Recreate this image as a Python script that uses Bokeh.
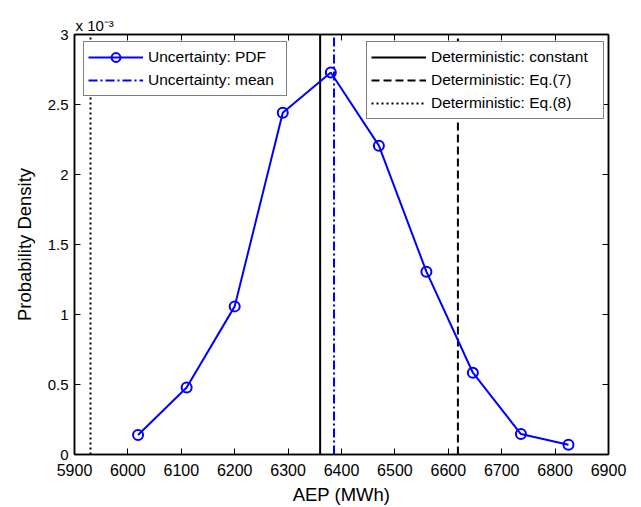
from bokeh.plotting import figure
from bokeh.models import Legend, LegendItem, LinearAxis, FixedTicker, Range1d
from bokeh.embed import file_html
from bokeh.resources import INLINE

# ---- data (PDF values in units of 1e-3) ----
aep = [6019, 6110, 6200, 6290, 6380, 6470, 6559, 6646, 6736, 6825]
pdf = [0.139, 0.479, 1.058, 2.441, 2.729, 2.206, 1.306, 0.584, 0.146, 0.070]
mean_aep = 6386
det_constant = 6360
det_eq7 = 6618
det_eq8 = 5930
x_ticks = [5900, 6000, 6100, 6200, 6300, 6400, 6500, 6600, 6700, 6800, 6900]
y_ticks = [0, 0.5, 1, 1.5, 2, 2.5, 3]
y_tick_labels = {0: "0", 0.5: "0.5", 1: "1", 1.5: "1.5", 2: "2", 2.5: "2.5", 3: "3"}
y_span = [0, 3]

FONT = "Liberation Sans"
BLUE = "#0000ff"

p = figure(width=641, height=507, output_backend="svg", toolbar_location=None,
           x_range=Range1d(5900, 6900), y_range=Range1d(0, 3),
           min_border_left=74, min_border_right=33, min_border_top=34, min_border_bottom=53)
p.grid.visible = False
p.outline_line_color = "black"
p.outline_line_width = 1.5
p.background_fill_color = "white"
p.border_fill_color = "white"

# exponent note as title
p.title.text = "x 10\u207b\u00b3"
p.title.text_font = FONT
p.title.text_font_size = "15px"
p.title.text_font_style = "normal"
p.title.text_color = "black"
p.title.align = "left"
p.title.offset = 1
p.title.standoff = 2

def style_axis(ax, ticks, fs, show_labels=True):
    ax.ticker = FixedTicker(ticks=ticks)
    ax.major_tick_in = 6
    ax.major_tick_out = 0
    ax.minor_tick_in = 0
    ax.minor_tick_out = 0
    ax.axis_line_width = 1.5
    ax.major_tick_line_width = 1
    ax.axis_line_color = "black"
    ax.major_tick_line_color = "black"
    ax.major_label_text_font = FONT
    ax.major_label_text_font_size = fs
    ax.major_label_text_color = "black"
    ax.axis_label_text_font = FONT
    ax.axis_label_text_font_size = "18.5px"
    ax.axis_label_text_font_style = "normal"
    ax.axis_label_text_color = "black"
    if not show_labels:
        ax.major_label_text_font_size = "0px"
        ax.major_label_text_color = None
        ax.major_label_standoff = 0

style_axis(p.xaxis[0], x_ticks, "16px")
p.xaxis[0].major_label_standoff = 9
p.xaxis[0].axis_label = "AEP (MWh)"
p.xaxis[0].axis_label_standoff = 5
style_axis(p.yaxis[0], y_ticks, "15px")
p.yaxis[0].major_label_overrides = y_tick_labels
p.yaxis[0].major_label_standoff = 6
p.yaxis[0].axis_label = "Probability Density"
p.yaxis[0].axis_label_standoff = 10

top_ax = LinearAxis()
style_axis(top_ax, x_ticks, "0px", show_labels=False)
p.add_layout(top_ax, "above")
right_ax = LinearAxis()
style_axis(right_ax, y_ticks, "0px", show_labels=False)
p.add_layout(right_ax, "right")

# vertical reference lines
r_eq8 = p.line([det_eq8, det_eq8], y_span, line_color="black", line_width=2, line_dash="2 3")
r_const = p.line([det_constant, det_constant], y_span, line_color="black", line_width=2)
r_eq7 = p.line([det_eq7, det_eq7], y_span, line_color="black", line_width=2, line_dash="8 4")
r_mean = p.line([mean_aep, mean_aep], y_span, line_color=BLUE, line_width=2, line_dash="9 3 2 3")

# PDF curve
r_pdf_line = p.line(aep, pdf, line_color=BLUE, line_width=2)
r_pdf_pts = p.scatter(aep, pdf, marker="circle", size=10, line_color=BLUE, line_width=2,
                      fill_color="white", fill_alpha=0)

def make_legend(items, loc, label_width):
    lg = Legend(items=items, location=loc)
    lg.border_line_color = "black"
    lg.border_line_width = 1.5
    lg.background_fill_color = "white"
    lg.background_fill_alpha = 1
    lg.label_text_font = FONT
    lg.label_text_font_size = "15.5px"
    lg.label_text_color = "black"
    lg.glyph_width = 55
    lg.glyph_height = 22
    lg.label_height = 22
    lg.label_width = label_width
    lg.label_standoff = 5
    lg.spacing = 1
    lg.padding = 4
    lg.margin = 0
    return lg

leg1 = make_legend([
    LegendItem(label="Uncertainty: PDF", renderers=[r_pdf_line, r_pdf_pts]),
    LegendItem(label="Uncertainty: mean", renderers=[r_mean]),
], (9, 358), 134)
leg2 = make_legend([
    LegendItem(label="Deterministic: constant", renderers=[r_const]),
    LegendItem(label="Deterministic: Eq.(7)", renderers=[r_eq7]),
    LegendItem(label="Deterministic: Eq.(8)", renderers=[r_eq8]),
], (292, 335), 168)
p.add_layout(leg1, "center")
p.add_layout(leg2, "center")

open("out.html", "w").write(file_html(p, INLINE))
